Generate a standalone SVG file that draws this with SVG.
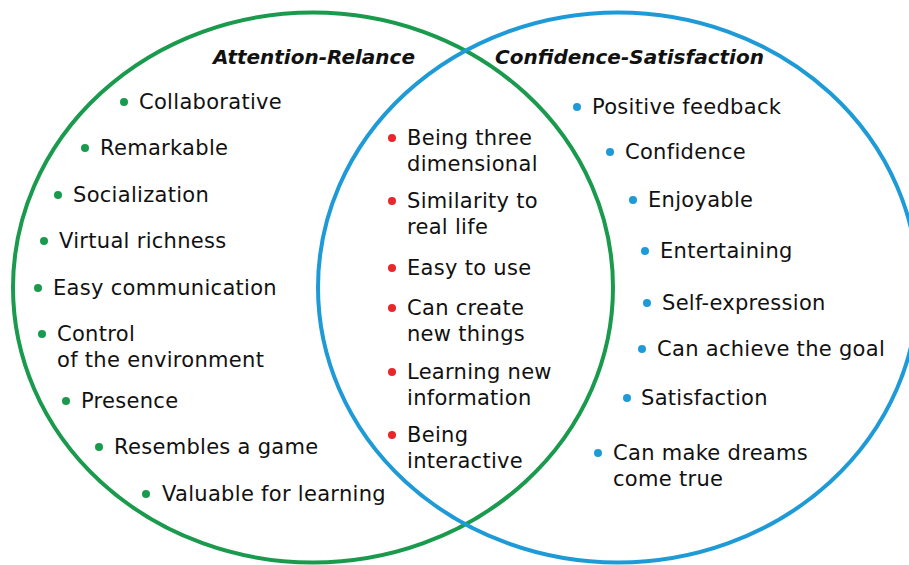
<svg xmlns="http://www.w3.org/2000/svg" width="909" height="565" viewBox="0 0 909 565">
<style>
.t{font-family:"DejaVu Sans","Liberation Sans",sans-serif;font-size:21px;fill:#111;letter-spacing:0.3px}
.h{font-family:"DejaVu Sans","Liberation Sans",sans-serif;font-size:20px;font-weight:bold;font-style:italic;fill:#111}
.g{fill:#1a9a4c}.b{fill:#1e9bd7}.r{fill:#e8262b}
</style>
<rect width="909" height="565" fill="#fff"/>
<g id="circles">
<ellipse id="attention-relance" cx="313" cy="287.5" rx="300" ry="275" fill="none" stroke="#1a9a4c" stroke-width="4"/>
<ellipse id="confidence-satisfaction" cx="618" cy="287.5" rx="300" ry="275" fill="none" stroke="#1e9bd7" stroke-width="4"/>
</g>
<g id="titles">
<text class="h" x="213" y="64">Attention-Relance</text>
<text class="h" x="495" y="64">Confidence-Satisfaction</text>
</g>
<g id="green-items">
<circle class="g" cx="124" cy="102" r="4"/><text class="t" x="139" y="109">Collaborative</text>
<circle class="g" cx="85" cy="148" r="4"/><text class="t" x="100" y="155">Remarkable</text>
<circle class="g" cx="58" cy="195" r="4"/><text class="t" x="73" y="202">Socialization</text>
<circle class="g" cx="44" cy="241" r="4"/><text class="t" x="59" y="248">Virtual richness</text>
<circle class="g" cx="38" cy="288" r="4"/><text class="t" x="53" y="295">Easy communication</text>
<circle class="g" cx="42" cy="334" r="4"/><text class="t" x="57" y="341">Control</text><text class="t" x="57" y="367">of the environment</text>
<circle class="g" cx="66" cy="401" r="4"/><text class="t" x="81" y="408">Presence</text>
<circle class="g" cx="99" cy="447" r="4"/><text class="t" x="114" y="454">Resembles a game</text>
<circle class="g" cx="146" cy="494" r="4"/><text class="t" x="162" y="501">Valuable for learning</text>
</g>
<g id="shared-items">
<circle class="r" cx="392" cy="138" r="4"/><text class="t" x="407" y="145">Being three</text><text class="t" x="407" y="171">dimensional</text>
<circle class="r" cx="392" cy="201" r="4"/><text class="t" x="407" y="208">Similarity to</text><text class="t" x="407" y="234">real life</text>
<circle class="r" cx="392" cy="268" r="4"/><text class="t" x="407" y="275">Easy to use</text>
<circle class="r" cx="392" cy="308" r="4"/><text class="t" x="407" y="315">Can create</text><text class="t" x="407" y="341">new things</text>
<circle class="r" cx="392" cy="372" r="4"/><text class="t" x="407" y="379">Learning new</text><text class="t" x="407" y="405">information</text>
<circle class="r" cx="392" cy="435" r="4"/><text class="t" x="407" y="442">Being</text><text class="t" x="407" y="468">interactive</text>
</g>
<g id="blue-items">
<circle class="b" cx="577" cy="107" r="4"/><text class="t" x="592" y="114">Positive feedback</text>
<circle class="b" cx="610" cy="152" r="4"/><text class="t" x="625" y="159">Confidence</text>
<circle class="b" cx="633" cy="200" r="4"/><text class="t" x="648" y="207">Enjoyable</text>
<circle class="b" cx="645" cy="251" r="4"/><text class="t" x="660" y="258">Entertaining</text>
<circle class="b" cx="647" cy="303" r="4"/><text class="t" x="662" y="310">Self-expression</text>
<circle class="b" cx="642" cy="349" r="4"/><text class="t" x="657" y="356">Can achieve the goal</text>
<circle class="b" cx="627" cy="398" r="4"/><text class="t" x="641" y="405">Satisfaction</text>
<circle class="b" cx="598" cy="453" r="4"/><text class="t" x="613" y="460">Can make dreams</text><text class="t" x="613" y="486">come true</text>
</g>
</svg>
